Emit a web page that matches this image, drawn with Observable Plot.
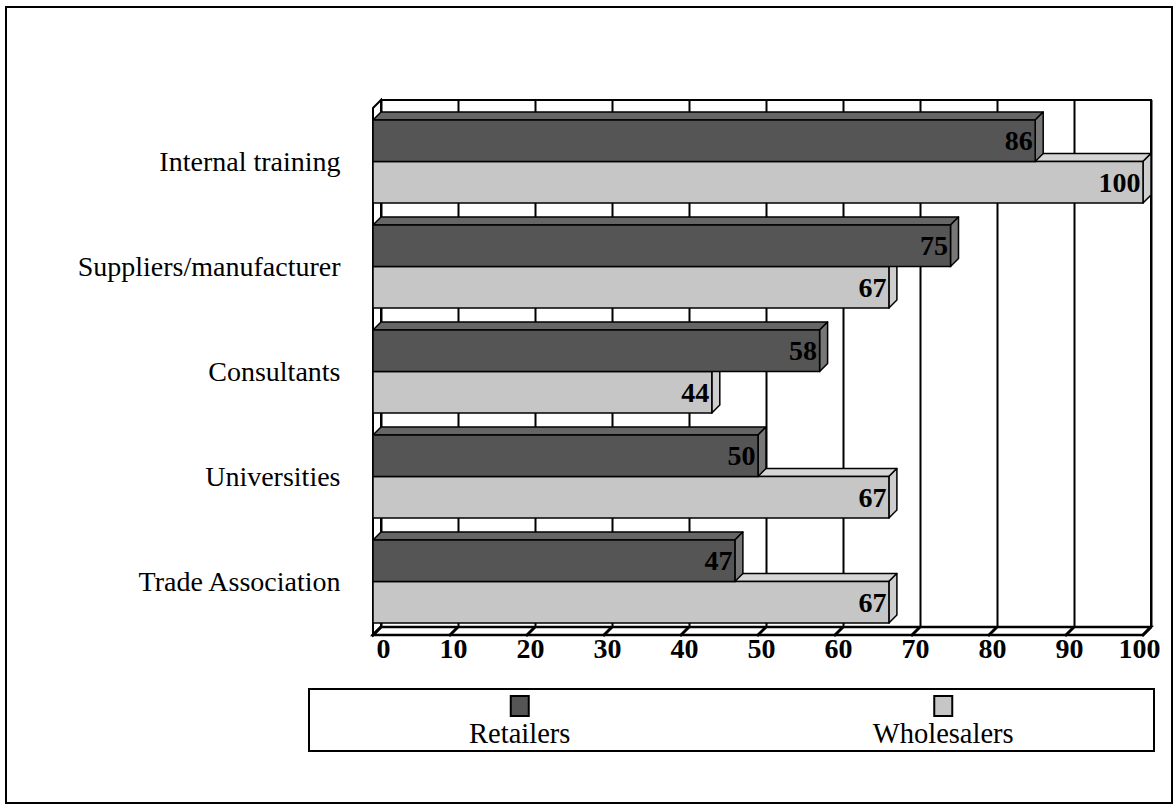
<!DOCTYPE html>
<html>
<head>
<meta charset="utf-8">
<script src="https://cdn.jsdelivr.net/npm/d3@7"></script>
<script src="https://cdn.jsdelivr.net/npm/@observablehq/plot@0.6"></script>
<style>
  html, body { margin: 0; padding: 0; background: #fff; }
  #page { position: relative; width: 1174px; height: 805px; overflow: hidden; }
  #border { position: absolute; left: 5px; top: 6px; width: 1164px; height: 794px; border: 2px solid #000; }
  #chart { position: absolute; left: 0; top: 0; }
  #legend { position: absolute; left: 308px; top: 688px; }
</style>
</head>
<body>
<div id="page">
  <div id="border"></div>
  <div id="chart"></div>
  <div id="legend"></div>
</div>
<script>
// ---- data ----
const categories = ["Internal training", "Suppliers/manufacturer", "Consultants", "Universities", "Trade Association"];
const seriesNames = ["Retailers", "Wholesalers"];
const retailers = [86, 75, 58, 50, 47];
const wholesalers = [100, 67, 44, 67, 67];
const xTicks = [0, 10, 20, 30, 40, 50, 60, 70, 80, 90, 100];

const colors = {
  Retailers: {front: "#555555", top: "#666666", side: "#777777"},
  Wholesalers: {front: "#c6c6c6", top: "#d6d6d6", side: "#cecece"}
};
const D = 8; // depth offset in pixels
const FONT = "Liberation Serif, Times New Roman, serif";

const rows = [];
categories.forEach((c, i) => {
  rows.push({category: c, series: "Retailers", value: retailers[i]});
  rows.push({category: c, series: "Wholesalers", value: wholesalers[i]});
});
const retRows = rows.filter(d => d.series === "Retailers");
const wholRows = rows.filter(d => d.series === "Wholesalers");

// walls & floor
function wallsRender(I, scales, values, dims) {
  const x = scales.x;
  const x0 = x(0), x1 = x(100);
  const top = dims.marginTop, bot = dims.height - dims.marginBottom;
  const g = d3.create("svg:g");
  g.append("rect").attr("x", x0 + D).attr("y", top - D).attr("width", x1 - x0).attr("height", bot - top)
    .attr("fill", "#fff").attr("stroke", "#000").attr("stroke-width", 2);
  g.append("path").attr("d", `M${x0},${top}L${x0 + D},${top - D}L${x0 + D},${bot - D}L${x0},${bot}Z`)
    .attr("fill", "#fff").attr("stroke", "#000").attr("stroke-width", 2);
  g.append("path").attr("d", `M${x0},${bot}L${x0 + D},${bot - D}L${x1 + D},${bot - D}L${x1},${bot}Z`)
    .attr("fill", "#fff").attr("stroke", "#000").attr("stroke-width", 2.5);
  return g.node();
}

// floor tick marks
function floorTicksRender(I, scales, values, dims) {
  const bot = dims.height - dims.marginBottom;
  const g = d3.create("svg:g");
  for (const i of I) {
    const xv = values.x[i];
    g.append("line").attr("x1", xv - 1).attr("y1", bot + 1).attr("x2", xv + D).attr("y2", bot - D)
      .attr("stroke", "#000").attr("stroke-width", 3);
  }
  return g.node();
}

// 3D bars
function barsRender(I, scales, values) {
  const x = scales.x, y = scales.y;
  const bw = y.bandwidth();
  const half = bw / 2;
  const g = d3.create("svg:g");
  const order = [...I].sort((a, b) => (rows[a].series === "Wholesalers" ? 0 : 1) - (rows[b].series === "Wholesalers" ? 0 : 1));
  for (const i of order) {
    const d = rows[i];
    const c = colors[d.series];
    const xa = x(0), xb = x(d.value);
    const ya = y(d.category) + (d.series === "Retailers" ? 0 : half);
    const yb = ya + half;
    g.append("path").attr("d", `M${xa},${ya}L${xa + D},${ya - D}L${xb + D},${ya - D}L${xb},${ya}Z`)
      .attr("fill", c.top).attr("stroke", "#000").attr("stroke-width", 1.5).attr("stroke-linejoin", "round");
    g.append("path").attr("d", `M${xb},${ya}L${xb + D},${ya - D}L${xb + D},${yb - D}L${xb},${yb}Z`)
      .attr("fill", c.side).attr("stroke", "#000").attr("stroke-width", 1.5).attr("stroke-linejoin", "round");
    g.append("rect").attr("x", xa).attr("y", ya).attr("width", xb - xa).attr("height", yb - ya)
      .attr("fill", c.front).attr("stroke", "#000").attr("stroke-width", 1.5);
  }
  return g.node();
}

const chart = Plot.plot({
  width: 1174,
  height: 690,
  marginLeft: 373,
  marginRight: 31,
  marginTop: 108,
  marginBottom: 55,
  style: {fontFamily: FONT, background: "transparent"},
  x: {domain: [0, 100], axis: null},
  y: {domain: categories, range: [118, 625], paddingInner: 0.2057, paddingOuter: 0, axis: null},
  marks: [
    Plot.frame({stroke: "none", render: wallsRender}),
    Plot.ruleX(xTicks, {x: d => d, dx: D, dy: -D, stroke: "#000", strokeWidth: 2}),
    Plot.ruleX(xTicks, {x: d => d, render: floorTicksRender}),
    Plot.barX(rows, {x: "value", y: "category", render: barsRender}),
    Plot.text(retRows, {x: "value", y: "category", text: d => String(d.value), dy: -21, dx: -3, textAnchor: "end",
      fontWeight: "bold", fontSize: 28, fill: "#000"}),
    Plot.text(wholRows, {x: "value", y: "category", text: d => String(d.value), dy: 21, dx: -3, textAnchor: "end",
      fontWeight: "bold", fontSize: 28, fill: "#000"}),
    Plot.text(categories, {y: d => d, frameAnchor: "left", text: d => d, textAnchor: "end", dx: -33,
      fontSize: 28, fill: "#000"}),
    Plot.text(xTicks, {x: d => d, frameAnchor: "bottom", text: d => String(d), dy: 22, dx: 17, textAnchor: "end",
      fontWeight: "bold", fontSize: 28, fill: "#000"})
  ]
});
document.getElementById("chart").appendChild(chart);

// legend (SVG, same serif font as the chart)
const LW = 847, LH = 64;
const lsvg = d3.select("#legend").append("svg").attr("width", LW).attr("height", LH)
  .style("font-family", FONT).style("display", "block");
lsvg.append("rect").attr("x", 1).attr("y", 1).attr("width", LW - 2).attr("height", LH - 2)
  .attr("fill", "#fff").attr("stroke", "#000").attr("stroke-width", 2);
const legendCenters = [0.25, 0.75];
seriesNames.forEach((s, i) => {
  const cx = legendCenters[i] * LW;
  lsvg.append("rect").attr("x", cx - 9).attr("y", 8).attr("width", 18).attr("height", 20)
    .attr("fill", colors[s].front).attr("stroke", "#000").attr("stroke-width", 2);
  lsvg.append("text").attr("x", cx).attr("y", 55).attr("text-anchor", "middle")
    .attr("font-size", 28.5).attr("fill", "#000").attr("font-family", FONT).text(s);
});
</script>
</body>
</html>
